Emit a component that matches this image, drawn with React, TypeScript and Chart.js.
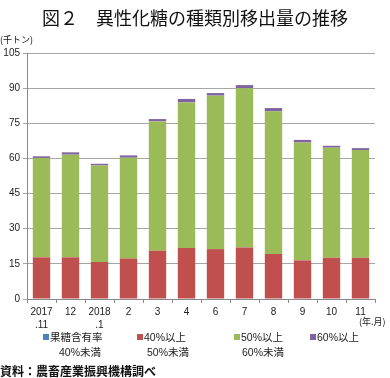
import React, { useEffect, useRef } from "react";
import { Chart, registerables } from "chart.js";

Chart.register(...registerables);

const categories: (string | string[])[] = [
  ["2017", ".11"], "12", ["2018", ".1"], "2", "3", "4", "6", "7", "8", "9", "10", "11",
];
const under40: number[] = [0, 0, 0, 0, 0, 0, 0, 0, 0, 0, 0, 0];
const from40to50: number[] = [17.8, 17.8, 15.8, 17.3, 20.6, 21.8, 21.3, 22.0, 19.2, 16.5, 17.6, 17.6];
const from50to60: number[] = [42.4, 43.8, 41.2, 43.0, 55.2, 62.1, 65.5, 68.0, 60.9, 50.3, 47.0, 46.0];
const over60: number[] = [0.7, 1.0, 0.7, 1.0, 1.0, 1.5, 1.1, 1.3, 1.4, 1.1, 0.8, 0.8];
const yTicks: number[] = [0, 15, 30, 45, 60, 75, 90, 105];

const FONT = "'Noto Sans CJK JP', 'Noto Sans', sans-serif";
const NUMFONT = "Arial, 'Liberation Sans', 'Noto Sans CJK JP', sans-serif";

const legendItems = [
  { color: "#4F81BD", l1: "果糖含有率", l2: "40%未満", x: 43, x2: 59 },
  { color: "#C0504D", l1: "40%以上", l2: "50%未満", x: 137, x2: 147 },
  { color: "#9BBB59", l1: "50%以上", l2: "60%未満", x: 234, x2: 242 },
  { color: "#8064A2", l1: "60%以上", l2: "", x: 310, x2: 318 },
];

export default function App() {
  const ref = useRef<HTMLCanvasElement>(null);
  useEffect(() => {
    if (!ref.current) return;
    const chart = new Chart(ref.current, {
      type: "bar",
      data: {
        labels: categories,
        datasets: [
          { label: "果糖含有率40%未満", data: under40, backgroundColor: "#4F81BD" },
          { label: "40%以上50%未満", data: from40to50, backgroundColor: "#C0504D" },
          { label: "50%以上60%未満", data: from50to60, backgroundColor: "#9BBB59" },
          { label: "60%以上", data: over60, backgroundColor: "#8064A2" },
        ],
      },
      options: {
        animation: false,
        responsive: false,
        maintainAspectRatio: false,
        layout: { padding: { left: 0, right: 15, top: 53, bottom: 44 } },
        datasets: { bar: { barPercentage: 0.6, categoryPercentage: 1 } },
        plugins: { legend: { display: false }, tooltip: { enabled: false }, title: { display: false } },
        scales: {
          x: {
            stacked: true,
            grid: { drawOnChartArea: false, drawTicks: true, tickLength: 4, color: "#888", offset: true },
            border: { color: "#888", width: 1 },
            ticks: {
              color: "#222",
              font: { family: NUMFONT, size: 10, lineHeight: 1.3 },
              padding: 3,
              maxRotation: 0,
              autoSkip: false,
            },
            afterFit: (s: any) => { s.height = 35; },
          },
          y: {
            stacked: true,
            min: 0,
            max: 105,
            afterBuildTicks: (s: any) => { s.ticks = yTicks.map((v) => ({ value: v })); },
            grid: { color: "#a6a6a6", lineWidth: 1, drawTicks: true, tickLength: 4 },
            border: { color: "#888", width: 1 },
            ticks: { color: "#222", font: { family: NUMFONT, size: 10 }, padding: 3 },
            afterFit: (s: any) => { s.width = 27; },
          },
        },
      },
    });
    return () => chart.destroy();
  }, []);

  return (
    <div style={{ position: "fixed", left: 0, top: 0, width: 390, height: 378, background: "#fff", fontFamily: FONT, color: "#111" }}>
      <canvas ref={ref} width={390} height={378} style={{ position: "absolute", left: 0, top: 0, width: 390, height: 378 }} />
      <div style={{ position: "absolute", left: 0, width: 390, top: 4, textAlign: "center", fontSize: 18, fontWeight: 400, lineHeight: "26px", whiteSpace: "pre" }}>
        図２　異性化糖の種類別移出量の推移
      </div>
      <div style={{ position: "absolute", left: 0, top: 34, fontSize: 9, lineHeight: "12px" }}>(千トン)</div>
      <div style={{ position: "absolute", left: 359, top: 316, fontSize: 9, lineHeight: "12px", color: "#222" }}>(年.月)</div>
      {legendItems.map((it, i) => (
        <React.Fragment key={i}>
          <div style={{ position: "absolute", left: it.x, top: 331, fontSize: 10.5, lineHeight: "13px", whiteSpace: "nowrap", color: "#222", fontFamily: NUMFONT }}>
            <span style={{ display: "inline-block", width: 6, height: 6, background: it.color, marginRight: 1, verticalAlign: "1px" }} />
            {it.l1}
          </div>
          {it.l2 && (
            <div style={{ position: "absolute", left: it.x2, top: 346, fontSize: 10.5, lineHeight: "13px", whiteSpace: "nowrap", color: "#222", fontFamily: NUMFONT }}>
              {it.l2}
            </div>
          )}
        </React.Fragment>
      ))}
      <div style={{ position: "absolute", left: 0, top: 364, fontSize: 12, fontWeight: 700, lineHeight: "14px", whiteSpace: "nowrap" }}>
        資料：農畜産業振興機構調べ
      </div>
    </div>
  );
}
